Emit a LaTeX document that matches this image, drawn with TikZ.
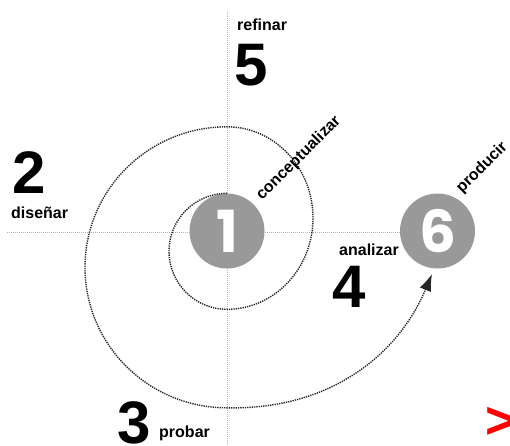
\documentclass[tikz,border=0pt]{standalone}
\usepackage{fontspec}
\setmainfont{Liberation Sans}
\newfontfamily\numfont{Poppins}
\usetikzlibrary{arrows.meta}
\definecolor{circgray}{HTML}{999999}
\definecolor{axisgray}{HTML}{B4B4B4}
\begin{document}
\begin{tikzpicture}[x=1pt,y=-1pt,
  axis/.style={axisgray, line width=1pt, dash pattern=on 1pt off 1pt},
  spiral/.style={black!85, line width=1.4pt, dash pattern=on 1.3pt off 1pt},
  stage/.style={circle, fill=circgray, minimum size=75pt, inner sep=0pt, text=white, font=\numfont\bfseries\fontsize{58}{58}\selectfont},
  big/.style={font=\bfseries\fontsize{60}{60}\selectfont, inner sep=0pt, anchor=base west},
  lab/.style={font=\bfseries\fontsize{16}{16}\selectfont, inner sep=0pt, anchor=base west}]
\useasboundingbox (0,0) rectangle (510,445);
% axes
\coordinate (vtop) at (227,12);
\coordinate (vbot) at (227,445);
\coordinate (hleft) at (7,232);
\coordinate (hright) at (401,232);
\draw[axis] (vtop) -- (vbot);
\draw[axis] (hleft) -- (hright);
% stage circles
\node[stage] (c1) at (227,231) {1};
\node[stage] (c6) at (437.5,231) {6};
% spiral
\coordinate (tip) at (432,274);
\draw[spiral, -{Latex[length=17pt,width=12pt]}] (c1.north)
  arc[start angle=270, end angle=90, radius=58]
  arc[start angle=90, end angle=-90, x radius=86, y radius=91.25]
  arc[start angle=270, end angle=90, x radius=142, y radius=140.5]
  .. controls (330,410) and (398,355) .. (tip);
% labels
\node[lab] (refinar) at (237,30) {refinar};
\node[big] (n5) at (234,85) {5};
\node[big] (n2) at (12,193) {2};
\node[lab] (disenar) at (11,218) {diseñar};
\node[lab, rotate=45] (concept) at (262,201) {conceptualizar};
\node[lab, rotate=45] (producir) at (462,194) {producir};
\node[lab] (analizar) at (339,255) {analizar};
\node[big] (n4) at (332,307) {4};
\node[big] (n3) at (117,443) {3};
\node[lab] (probar) at (159,437) {probar};
\node[text=red, font=\bfseries\fontsize{52}{52}\selectfont, anchor=base west, inner sep=0pt] (more) at (485,438) {>};
\end{tikzpicture}
\end{document}
